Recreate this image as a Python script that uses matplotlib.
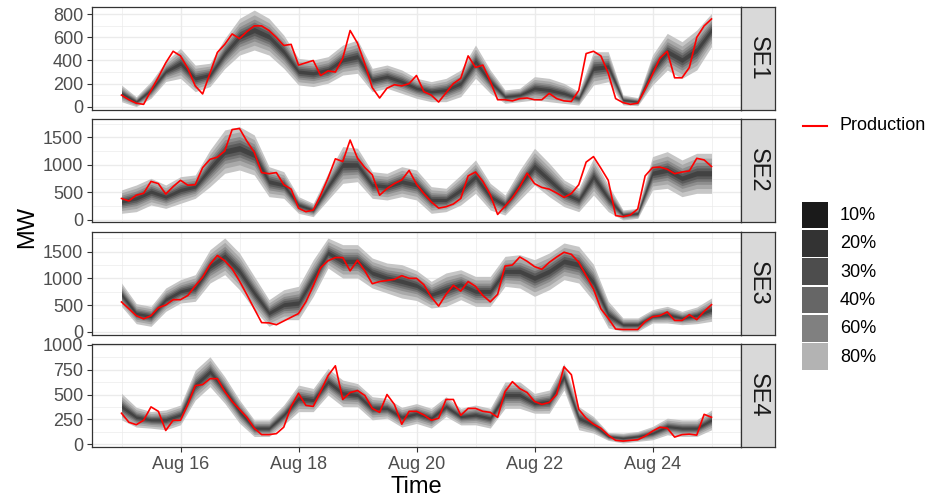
import numpy as np
import pandas as pd
import matplotlib
matplotlib.use('Agg')
import matplotlib.pyplot as plt
import matplotlib.dates as mdates
from matplotlib.patches import Rectangle
from matplotlib.lines import Line2D

plt.rcParams['font.family'] = ['Liberation Sans', 'DejaVu Sans']

regions = ['SE1', 'SE2', 'SE3', 'SE4']

# production every 3 hours, forecast bands every 6 hours
prod_time = pd.date_range('2019-08-15 00:00', periods=81, freq='3h')
band_time = pd.date_range('2019-08-15 00:00', periods=41, freq='6h')

prod_se1 = [100, 60, 30, 20, 140, 255, 380, 480, 440, 330, 180, 110, 290, 470, 540, 630, 590, 650, 700, 700,
            660, 600, 530, 540, 360, 380, 400, 270, 310, 300, 420, 660, 550, 370, 165, 75, 160, 190, 180, 200, 270,
            130, 100, 40, 120, 200, 245, 440, 340, 360, 220, 60, 60, 50, 70, 75, 60, 60, 115, 70, 50,
            45, 140, 460, 480, 440, 290, 70, 35, 20, 30, 150, 280, 420, 480, 250, 250, 340, 600, 700, 760]
prod_se2 = [390, 345, 450, 484, 700, 660, 470, 605, 720, 630, 640, 950, 1100, 1140, 1250, 1640, 1660, 1430, 1230, 860,
            840, 860, 640, 560, 215, 150, 180, 450, 760, 1110, 1060, 1450, 1120, 950, 820, 450, 570, 660, 726, 900, 650,
            480, 330, 215, 240, 290, 390, 800, 870, 700, 460, 100, 250, 400, 600, 850, 660, 590, 560, 490, 410,
            480, 640, 1050, 1150, 940, 720, 80, 60, 90, 200, 800, 950, 960, 920, 840, 870, 890, 1119, 1090, 970]
prod_se3 = [557, 430, 300, 240, 300, 450, 500, 600, 600, 680, 860, 1020, 1260, 1430, 1330, 1180, 950, 694, 430, 170,
            165, 130, 200, 270, 340, 560, 860, 1200, 1330, 1390, 1390, 1140, 1340, 1140, 900, 940, 960, 980, 1050, 1000, 1000,
            880, 650, 480, 700, 870, 760, 940, 850, 680, 560, 700, 1230, 1250, 1400, 1320, 1220, 1170, 1300, 1400, 1490,
            1450, 1300, 1050, 800, 430, 250, 50, 40, 40, 40, 190, 280, 300, 370, 210, 210, 319, 225, 380, 506]
prod_se4 = [311, 220, 195, 240, 375, 330, 137, 240, 240, 400, 590, 600, 660, 660, 530, 430, 350, 270, 160, 95,
            95, 105, 170, 378, 512, 390, 380, 530, 690, 790, 450, 520, 540, 490, 360, 320, 500, 400, 200, 330, 330,
            294, 240, 260, 450, 450, 290, 360, 360, 330, 320, 270, 528, 630, 560, 520, 430, 400, 420, 500, 780,
            700, 350, 260, 200, 160, 90, 37, 30, 37, 43, 80, 130, 170, 160, 70, 95, 100, 90, 300, 270]

# forecast median and half width of the 80% band
med_se1 = [115, 43, 145, 305, 375, 245, 275, 460, 606, 664, 606, 476, 303, 289, 318, 404, 433, 231, 260, 217, 159,
           130, 144, 202, 390, 217, 87, 101, 159, 144, 115, 72, 332, 346, 58, 43, 318, 476, 404, 491, 664]
hw_se1 = [72, 43, 72, 87, 130, 115, 101, 130, 159, 173, 159, 144, 115, 115, 115, 130, 144, 101, 101, 101, 87,
          87, 101, 115, 144, 101, 58, 58, 101, 101, 87, 58, 144, 130, 43, 35, 130, 159, 159, 173, 144]
med_se2 = [333, 393, 514, 423, 544, 605, 937, 1240, 1300, 1180, 695, 635, 272, 181, 605, 998, 998, 635, 605, 695, 635,
           363, 363, 544, 786, 423, 272, 635, 968, 726, 484, 363, 786, 393, 91, 121, 847, 907, 756, 847, 847]
hw_se2 = [212, 242, 242, 212, 242, 212, 333, 393, 393, 363, 272, 242, 151, 121, 242, 333, 303, 242, 242, 272, 272,
          242, 212, 272, 303, 242, 182, 272, 333, 303, 242, 212, 333, 242, 91, 91, 303, 333, 333, 363, 363]
med_se3 = [694, 338, 288, 600, 756, 819, 1225, 1413, 1131, 725, 350, 506, 538, 1006, 1475, 1319, 1319, 1100, 1006, 944, 866,
           694, 788, 881, 756, 756, 1131, 1131, 1006, 1131, 1319, 1256, 919, 319, 131, 131, 288, 319, 256, 306, 413]
hw_se3 = [219, 188, 188, 219, 219, 250, 313, 344, 344, 313, 250, 281, 313, 344, 281, 313, 313, 281, 281, 313, 281,
          250, 313, 281, 281, 281, 281, 313, 344, 344, 344, 344, 344, 250, 125, 125, 125, 156, 125, 156, 219]
med_se4 = [378, 271, 244, 244, 294, 595, 730, 545, 328, 160, 160, 294, 461, 444, 629, 512, 494, 361, 361, 271, 308,
           261, 378, 277, 294, 261, 494, 494, 411, 428, 679, 261, 194, 77, 60, 77, 110, 177, 160, 160, 244]
hw_se4 = [134, 100, 84, 100, 100, 151, 151, 134, 117, 84, 84, 100, 134, 117, 134, 134, 117, 117, 100, 100, 100,
          100, 100, 84, 100, 100, 134, 134, 100, 117, 134, 117, 84, 40, 50, 50, 67, 84, 84, 84, 100]

levels = ['10%', '20%', '30%', '40%', '60%', '80%']
level_frac = [0.13, 0.27, 0.40, 0.55, 0.76, 1.0]
band_colors = ['#424242', '#5a5a5a', '#747474', '#8e8e8e', '#a9a9a9', '#c6c6c6']
key_colors = ['#1a1a1a', '#333333', '#4d4d4d', '#666666', '#808080', '#b3b3b3']

y_limits = [(-29, 861), (-42, 1832), (-68, 1869), (-33, 1010)]
y_major = [[0, 200, 400, 600, 800], [0, 500, 1000, 1500], [0, 500, 1000, 1500], [0, 250, 500, 750, 1000]]
y_minor = [[100, 300, 500, 700], [250, 750, 1250, 1750], [250, 750, 1250, 1750], [125, 375, 625, 875]]

prods = [prod_se1, prod_se2, prod_se3, prod_se4]
meds = [med_se1, med_se2, med_se3, med_se4]
hws = [hw_se1, hw_se2, hw_se3, hw_se4]

W, H = 929, 500
fig = plt.figure(figsize=(W / 100, H / 100), dpi=100)


def rect(x0, y0, x1, y1):
    return [x0 / W, 1 - y1 / H, (x1 - x0) / W, (y1 - y0) / H]


panel_px = [(7.3, 110), (119, 222.3), (232, 335.3), (344, 447.3)]
left, right, strip_w = 92, 741, 34

for i, reg in enumerate(regions):
    top, bot = panel_px[i]
    ax = fig.add_axes(rect(left, top, right, bot))
    med = np.array(meds[i], dtype=float)
    hw = np.array(hws[i], dtype=float)
    for frac, col in reversed(list(zip(level_frac, band_colors))):
        lo = np.clip(med - frac * hw, 0, None)
        hi = med + frac * hw
        ax.fill_between(band_time, lo, hi, color=col, lw=0, zorder=2)
    ax.plot(prod_time, prods[i], color='#ff0000', lw=1.2, zorder=3)

    ax.set_xlim(pd.Timestamp('2019-08-14 12:00'), pd.Timestamp('2019-08-25 12:00'))
    ax.set_ylim(*y_limits[i])
    ax.set_yticks(y_major[i])
    ax.set_yticks(y_minor[i], minor=True)
    ax.xaxis.set_major_locator(mdates.DayLocator(bymonthday=[16, 18, 20, 22, 24]))
    ax.xaxis.set_minor_locator(mdates.DayLocator(bymonthday=[15, 17, 19, 21, 23, 25]))
    ax.xaxis.set_major_formatter(mdates.DateFormatter('%b %d'))
    ax.grid(which='major', color='#ebebeb', lw=1.0, zorder=0)
    ax.grid(which='minor', color='#ebebeb', lw=0.5, zorder=0)
    ax.set_axisbelow(True)
    for s in ax.spines.values():
        s.set_color('#333333')
        s.set_linewidth(0.9)
    ax.tick_params(which='major', length=3.4, width=0.8, color='#333333',
                   labelsize=13, labelcolor='#4d4d4d', pad=3)
    ax.tick_params(which='minor', length=0)
    if i < 3:
        ax.tick_params(axis='x', which='major', length=0, labelbottom=False)

    sax = fig.add_axes(rect(right, top, right + strip_w, bot))
    sax.set_facecolor('#d9d9d9')
    sax.set_xticks([])
    sax.set_yticks([])
    for s in sax.spines.values():
        s.set_color('#333333')
        s.set_linewidth(0.9)
    sax.text(0.5, 0.5, reg, rotation=-90, ha='center', va='center',
             fontsize=17, color='#1a1a1a', transform=sax.transAxes)

fig.text(27 / W, 1 - 227 / H, 'MW', rotation=90, fontsize=17, ha='center', va='center')
fig.text((left + right) / 2 / W, 1 - 487 / H, 'Time', fontsize=17, ha='center', va='center')

# legend
fig.add_artist(Line2D([803 / W, 827 / W], [1 - 126 / H] * 2, color='#ff0000', lw=1.5))
fig.text(840 / W, 1 - 126 / H, 'Production', fontsize=13, va='center')
for i, (lab, c) in enumerate(zip(levels, key_colors)):
    ktop = 201.7 + 28.3 * i
    fig.add_artist(Rectangle((801.7 / W, 1 - (ktop + 26.6) / H), 26.6 / W, 26.6 / H,
                             transform=fig.transFigure, facecolor=c, edgecolor='none'))
    fig.text(840 / W, 1 - (ktop + 14) / H, lab, fontsize=13, va='center')

fig.savefig('out.png', dpi=100)
